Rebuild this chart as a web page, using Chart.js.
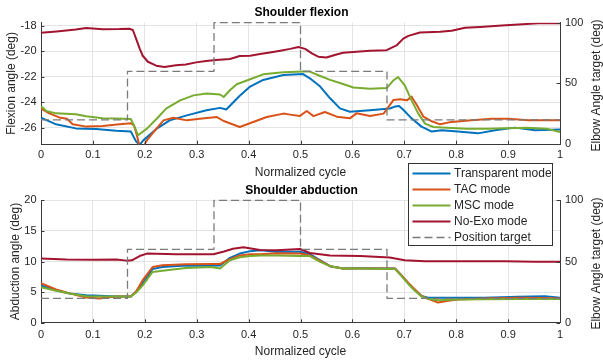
<!DOCTYPE html>
<html>
<head>
<meta charset="utf-8">
<script src="https://cdn.jsdelivr.net/npm/chart.js@4/dist/chart.umd.min.js"></script>
<style>
  html, body { margin: 0; padding: 0; background: #ffffff; }
  #wrap { position: relative; width: 603px; height: 360px; }
  #wrap canvas { position: absolute; left: 0; top: 0; }
</style>
</head>
<body>
<div id="wrap">
  <canvas id="flex" width="603" height="180"></canvas>
  <canvas id="abd" width="603" height="360"></canvas>
</div>
<script>
// ---------------- data ----------------
const seriesNames = ['Transparent mode', 'TAC mode', 'MSC mode', 'No-Exo mode', 'Position target'];
const seriesColors = ['#0072BD', '#D95319', '#77AC30', '#A2142F', '#7a7a7a'];

const xTicks = [0, 0.1, 0.2, 0.3, 0.4, 0.5, 0.6, 0.7, 0.8, 0.9, 1];
const flexTicks = [-26, -24, -22, -20, -18];
const abdTicks = [0, 5, 10, 15, 20];
const elbowTicks = [0, 50, 100];

// Position target (elbow angle, right axis), value starting at each x
const targetX = [0, 1/6, 1/3, 1/2, 2/3, 1];
const targetY = [20, 60, 100, 60, 20, 20];

// Shoulder flexion (deg)
const flexTranspX = [0, 0.029, 0.067, 0.106, 0.145, 0.173, 0.183, 0.19, 0.197, 0.223, 0.248, 0.281, 0.319, 0.345, 0.357, 0.383, 0.403, 0.428, 0.467, 0.505, 0.518, 0.538, 0.557, 0.576, 0.595, 0.634, 0.672, 0.682, 0.69, 0.698, 0.714, 0.733, 0.753, 0.772, 0.803, 0.842, 0.875, 0.913, 0.952, 1];
const flexTranspY = [-25.22, -25.74, -26.06, -26.1, -26.24, -26.3, -27.07, -27.35, -27.0, -26.08, -25.43, -25.04, -24.64, -24.45, -24.58, -23.5, -22.78, -22.26, -21.87, -21.8, -22.13, -22.78, -23.7, -24.49, -24.75, -24.64, -24.5, -24.35, -24.3, -24.6, -25.27, -25.92, -26.31, -26.2, -26.31, -26.45, -26.2, -26.0, -26.2, -26.15];

const flexTacX = [0, 0.016, 0.035, 0.05, 0.061, 0.087, 0.119, 0.151, 0.173, 0.179, 0.186, 0.19, 0.197, 0.204, 0.22, 0.236, 0.255, 0.281, 0.306, 0.339, 0.352, 0.383, 0.409, 0.435, 0.467, 0.48, 0.499, 0.512, 0.525, 0.547, 0.57, 0.595, 0.608, 0.634, 0.66, 0.679, 0.692, 0.705, 0.714, 0.724, 0.737, 0.753, 0.769, 0.791, 0.83, 0.868, 0.9, 0.939, 1];
const flexTacY = [-24.5, -24.88, -25.2, -25.3, -25.74, -25.92, -25.88, -25.74, -25.66, -25.8, -26.8, -27.5, -27.5, -27.0, -26.2, -25.43, -25.22, -25.43, -25.3, -25.17, -25.48, -25.95, -25.56, -25.17, -24.9, -24.98, -25.08, -24.7, -25.1, -24.77, -25.14, -25.27, -24.88, -25.09, -24.9, -23.84, -23.78, -23.86, -23.57, -24.23, -25.14, -25.5, -25.74, -25.55, -25.42, -25.3, -25.3, -25.42, -25.42];

const flexMscX = [0, 0.01, 0.029, 0.067, 0.087, 0.119, 0.145, 0.173, 0.18, 0.187, 0.204, 0.223, 0.241, 0.268, 0.294, 0.319, 0.345, 0.352, 0.364, 0.377, 0.403, 0.428, 0.467, 0.505, 0.518, 0.538, 0.557, 0.576, 0.602, 0.634, 0.666, 0.679, 0.688, 0.701, 0.714, 0.727, 0.74, 0.756, 0.782, 0.82, 0.859, 0.897, 0.936, 0.974, 1];
const flexMscY = [-24.3, -24.7, -24.88, -24.95, -25.1, -25.27, -25.28, -25.32, -25.9, -26.6, -26.08, -25.3, -24.51, -23.86, -23.47, -23.33, -23.4, -23.6, -23.07, -22.6, -22.2, -21.82, -21.66, -21.6, -21.6, -21.95, -22.25, -22.5, -22.85, -22.94, -22.9, -22.29, -22.03, -22.68, -23.86, -24.9, -25.69, -25.95, -26.0, -26.08, -26.08, -26.05, -26.0, -26.08, -26.35];

const flexNoExoX = [0, 0.03, 0.067, 0.087, 0.119, 0.151, 0.17, 0.177, 0.183, 0.19, 0.196, 0.206, 0.222, 0.238, 0.26, 0.279, 0.299, 0.318, 0.337, 0.364, 0.383, 0.403, 0.422, 0.441, 0.461, 0.48, 0.496, 0.509, 0.522, 0.534, 0.55, 0.566, 0.582, 0.608, 0.634, 0.666, 0.685, 0.698, 0.708, 0.73, 0.769, 0.791, 0.817, 0.846, 0.888, 0.92, 0.958, 1];
const flexNoExoY = [-18.55, -18.45, -18.3, -18.18, -18.28, -18.27, -18.24, -18.34, -19.0, -19.78, -20.36, -20.83, -21.14, -21.25, -21.1, -21.04, -20.88, -20.77, -20.7, -20.62, -20.38, -20.36, -20.22, -20.1, -19.96, -19.82, -19.67, -19.82, -20.17, -20.43, -20.5, -20.3, -20.12, -20.04, -19.96, -19.92, -19.55, -19.02, -18.8, -18.53, -18.48, -18.4, -18.16, -18.1, -17.98, -17.9, -17.82, -17.82];

// Shoulder abduction (deg)
const abdX = [0, 0.029, 0.055, 0.087, 0.112, 0.145, 0.173, 0.183, 0.196, 0.215, 0.234, 0.279, 0.328, 0.345, 0.364, 0.383, 0.403, 0.422, 0.454, 0.499, 0.518, 0.538, 0.557, 0.582, 0.615, 0.672, 0.682, 0.694, 0.708, 0.721, 0.733, 0.746, 0.765, 0.804, 0.855, 0.919, 0.971, 1];
const abdTranspY = [6.1, 5.3, 4.8, 4.5, 4.4, 4.3, 4.3, 5.05, 6.5, 8.8, 9.1, 9.35, 9.3, 9.35, 10.6, 11.3, 11.7, 11.85, 11.6, 11.6, 11.2, 10.2, 9.24, 8.87, 8.9, 8.87, 8.87, 7.77, 6.4, 5.33, 4.4, 4.1, 4.1, 4.1, 4.1, 4.24, 4.35, 4.1];
const abdMscY = [5.8, 5.24, 4.8, 4.35, 4.3, 4.3, 4.3, 4.9, 6.1, 8.3, 8.5, 8.96, 9.1, 8.87, 10.2, 10.7, 10.9, 11.0, 11.0, 10.9, 10.9, 9.95, 9.24, 8.87, 8.87, 8.8, 8.8, 7.7, 6.3, 5.2, 4.3, 3.9, 3.7, 3.8, 3.85, 3.9, 3.9, 3.9];

const abdTacX = [0, 0.029, 0.055, 0.087, 0.112, 0.145, 0.173, 0.183, 0.196, 0.215, 0.234, 0.279, 0.328, 0.345, 0.364, 0.383, 0.403, 0.422, 0.454, 0.499, 0.518, 0.538, 0.557, 0.582, 0.615, 0.672, 0.682, 0.694, 0.708, 0.721, 0.733, 0.746, 0.765, 0.785, 0.804, 0.855, 0.919, 0.971, 1];
const abdTacY = [6.45, 5.44, 4.8, 4.13, 3.97, 4.3, 4.3, 5.05, 6.96, 9.1, 9.4, 9.57, 9.6, 9.6, 10.4, 11.0, 11.2, 11.2, 11.35, 11.3, 11.0, 10.1, 9.24, 8.87, 8.87, 8.87, 8.87, 7.8, 6.5, 5.4, 4.4, 3.9, 3.3, 3.6, 3.8, 3.95, 4.1, 4.05, 3.97];

const abdNoExoX = [0, 0.049, 0.1, 0.145, 0.165, 0.175, 0.19, 0.204, 0.26, 0.332, 0.351, 0.37, 0.39, 0.422, 0.454, 0.499, 0.518, 0.557, 0.615, 0.672, 0.701, 0.74, 0.817, 0.894, 0.952, 1];
const abdNoExoY = [10.5, 10.35, 10.3, 10.35, 10.15, 10.2, 10.9, 11.3, 11.2, 11.2, 11.6, 12.1, 12.35, 11.9, 11.85, 12.05, 11.4, 11.0, 10.9, 10.65, 10.2, 10.05, 10.05, 10.05, 9.95, 9.95];

// ---------------- helpers ----------------
const FONT = "'Liberation Sans', Arial, Helvetica, sans-serif";
const TXT = '#262626';
const GRID = '#e4e4e4';
const AXIS = '#3a3a3a';

function pts(xs, ys) {
  const n = Math.min(xs.length, ys.length);
  const out = [];
  for (let i = 0; i < n; i++) out.push({ x: xs[i], y: ys[i] });
  return out;
}

function makeDatasets(series) {
  return series.map((s, i) => {
    const isTarget = i === 4;
    return {
      label: seriesNames[i],
      data: s.data,
      yAxisID: s.axis,
      borderColor: seriesColors[i],
      backgroundColor: seriesColors[i],
      borderWidth: isTarget ? 1.3 : 2,
      borderDash: isTarget ? [8, 4] : [],
      stepped: isTarget ? 'before' : false,
      pointRadius: 0,
      fill: false,
      tension: 0,
      order: 5 - i,
      clip: isTarget ? 3 : 0,
      borderJoinStyle: 'round'
    };
  });
}

const setTicks = (arr) => (axis) => { axis.ticks = arr.map(v => ({ value: v })); };

function makeScales(cfg) {
  return {
    x: {
      type: 'linear', position: 'bottom', min: 0, max: 1,
      afterBuildTicks: setTicks(xTicks),
      afterFit: (s) => { s.height = cfg.xHeight; },
      grid: { color: GRID, drawTicks: false, lineWidth: 1 },
      border: { color: AXIS, width: 1 },
      ticks: { color: TXT, font: { family: FONT, size: 11 }, padding: cfg.xTickPad, maxRotation: 0, autoSkip: false, callback: (v) => String(v) },
      title: { display: true, text: 'Normalized cycle', color: TXT, font: { family: FONT, size: 12 }, padding: { top: 0, bottom: cfg.xTitlePad } }
    },
    y: {
      type: 'linear', position: 'left', min: cfg.yMin, max: cfg.yMax,
      afterBuildTicks: setTicks(cfg.yTicks),
      afterFit: (s) => { s.width = 41; },
      grid: { color: GRID, drawTicks: false, lineWidth: 1 },
      border: { color: AXIS, width: 1 },
      ticks: { color: TXT, font: { family: FONT, size: 11 }, padding: 4.5, autoSkip: false, callback: (v) => String(v) },
      title: { display: true, text: cfg.yTitle, color: TXT, font: { family: FONT, size: 12 }, padding: { top: cfg.yTitlePad, bottom: 0 } }
    },
    y2: {
      type: 'linear', position: 'right', min: 0, max: 100,
      afterBuildTicks: setTicks(elbowTicks),
      afterFit: (s) => { s.width = 43; },
      grid: { drawOnChartArea: false, drawTicks: false },
      border: { color: AXIS, width: 1 },
      ticks: { color: TXT, font: { family: FONT, size: 11 }, padding: 5, autoSkip: false, callback: (v) => String(v) }
    }
  };
}

// inward tick marks (MATLAB style)
const inwardTicks = {
  id: 'inwardTicks',
  afterDraw(chart) {
    const ctx = chart.ctx, a = chart.chartArea, L = 3.5;
    ctx.save();
    ctx.strokeStyle = AXIS; ctx.lineWidth = 1;
    ctx.beginPath();
    const sx = chart.scales.x, sy = chart.scales.y, sy2 = chart.scales.y2;
    sx.ticks.forEach(t => { const p = Math.round(sx.getPixelForValue(t.value)) + 0.5; ctx.moveTo(p, a.bottom); ctx.lineTo(p, a.bottom - L); });
    sy.ticks.forEach(t => { const p = Math.round(sy.getPixelForValue(t.value)) + 0.5; ctx.moveTo(a.left, p); ctx.lineTo(a.left + L, p); });
    sy2.ticks.forEach(t => { const p = Math.round(sy2.getPixelForValue(t.value)) + 0.5; ctx.moveTo(a.right, p); ctx.lineTo(a.right - L, p); });
    ctx.stroke();
    ctx.restore();
  }
};

// right axis title, reading bottom-to-top like MATLAB's yyaxis right label
const rightTitle = {
  id: 'rightTitle',
  afterDraw(chart, args, opts) {
    const s = chart.scales.y2, ctx = chart.ctx;
    ctx.save();
    ctx.translate(s.right - 6.3, (s.top + s.bottom) / 2 + (opts.dy || 0));
    ctx.rotate(-Math.PI / 2);
    ctx.textAlign = 'center'; ctx.textBaseline = 'middle';
    ctx.font = '12px ' + FONT; ctx.fillStyle = TXT;
    ctx.fillText(opts.text, 0, 0);
    ctx.restore();
  }
};

// boxed legend (drawn on the lower, full-height canvas)
const boxLegend = {
  id: 'boxLegend',
  afterDraw(chart, args, opts) {
    if (!opts.show) return;
    const ctx = chart.ctx;
    const bx = 408.5, by = 163.5, bw = 144, bh = 82, rowH = 16, firstY = 173.5;
    ctx.save();
    ctx.fillStyle = '#ffffff';
    ctx.fillRect(bx, by, bw, bh);
    ctx.strokeStyle = '#333333'; ctx.lineWidth = 1;
    ctx.strokeRect(bx, by, bw, bh);
    ctx.font = '12px ' + FONT; ctx.textBaseline = 'middle'; ctx.textAlign = 'left';
    chart.data.datasets.forEach((d, i) => {
      const y = firstY + i * rowH;
      ctx.beginPath();
      ctx.setLineDash(d.borderDash || []);
      ctx.strokeStyle = d.borderColor;
      ctx.lineWidth = d.borderWidth;
      ctx.moveTo(412.5, y); ctx.lineTo(450.5, y);
      ctx.stroke();
      ctx.setLineDash([]);
      ctx.fillStyle = TXT;
      ctx.fillText(d.label, 454, y + 0.5);
    });
    ctx.restore();
  }
};

Chart.register(inwardTicks, rightTitle, boxLegend);

function baseOptions(cfg) {
  return {
    responsive: false,
    animation: false,
    devicePixelRatio: 1,
    layout: { padding: { top: cfg.padTop, left: 0, right: 0, bottom: 0 } },
    scales: makeScales(cfg),
    plugins: {
      legend: { display: false },
      tooltip: { enabled: false },
      title: { display: true, text: cfg.title, color: '#000000', font: { family: FONT, size: 12, weight: 'bold' }, padding: { top: cfg.titlePadTop, bottom: cfg.titlePadBottom } },
      rightTitle: { text: 'Elbow Angle target (deg)', dy: 2 },
      boxLegend: { show: cfg.legend }
    }
  };
}

// ---------------- top: shoulder flexion ----------------
new Chart(document.getElementById('flex'), {
  type: 'line',
  data: {
    datasets: makeDatasets([
      { data: pts(flexTranspX, flexTranspY), axis: 'y' },
      { data: pts(flexTacX, flexTacY), axis: 'y' },
      { data: pts(flexMscX, flexMscY), axis: 'y' },
      { data: pts(flexNoExoX, flexNoExoY), axis: 'y' },
      { data: pts(targetX, targetY), axis: 'y2' }
    ])
  },
  options: baseOptions({
    title: 'Shoulder flexion', padTop: 0, titlePadTop: 5.5, titlePadBottom: 2.77,
    xHeight: 35.8, xTickPad: 4.3, xTitlePad: 0,
    yMin: -27.3, yMax: -17.765, yTicks: flexTicks, yTitle: 'Flexion angle (deg)', yTitlePad: 4.5,
    legend: false
  })
});

// ---------------- bottom: shoulder abduction ----------------
new Chart(document.getElementById('abd'), {
  type: 'line',
  data: {
    datasets: makeDatasets([
      { data: pts(abdX, abdTranspY), axis: 'y' },
      { data: pts(abdTacX, abdTacY), axis: 'y' },
      { data: pts(abdX, abdMscY), axis: 'y' },
      { data: pts(abdNoExoX, abdNoExoY), axis: 'y' },
      { data: pts(targetX, targetY), axis: 'y2' }
    ])
  },
  options: baseOptions({
    title: 'Shoulder abduction', padTop: 180, titlePadTop: 3.5, titlePadBottom: 2.4,
    xHeight: 37.2, xTickPad: 5.6, xTitlePad: 0.8,
    yMin: 0, yMax: 20, yTicks: abdTicks, yTitle: 'Abduction angle (deg)', yTitlePad: 8,
    legend: true
  })
});
</script>
</body>
</html>
